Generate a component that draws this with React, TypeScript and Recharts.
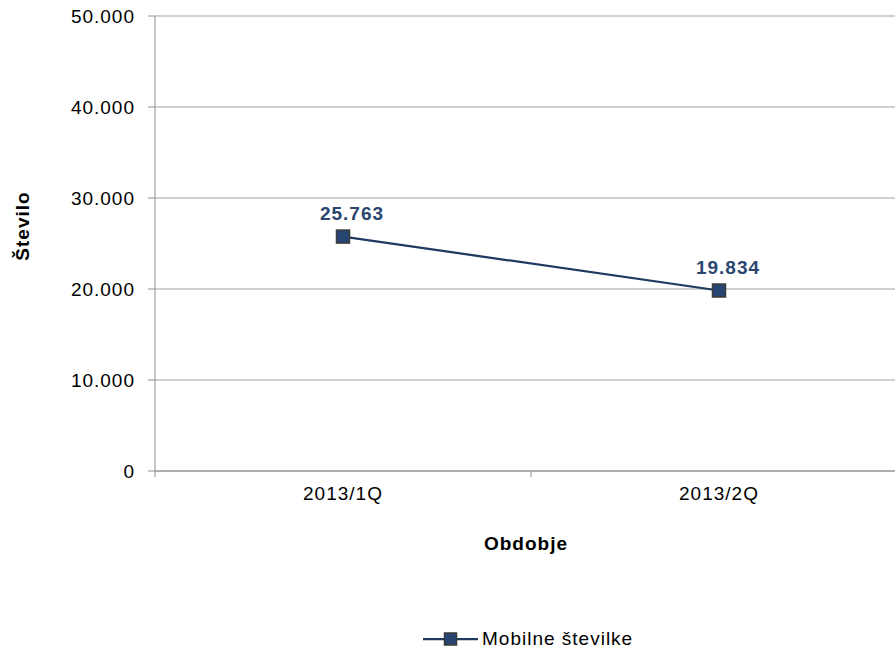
import { LineChart, Line, XAxis, YAxis, CartesianGrid, LabelList } from "recharts";

// podatki
const periods = ["2013/1Q", "2013/2Q"];
const mobileNumbers = [25763, 19834];
const yTicks = [0, 10000, 20000, 30000, 40000, 50000];
const seriesName = "Mobilne številke";

const data = periods.map((p, i) => ({ period: p, value: mobileNumbers[i] }));

const FONT = '"Liberation Sans", Arial, sans-serif';
const LINE = "#1F3A60";
const MARK = "#264573";
const LABEL = "#2A4670";
const AXIS = "#8E8E8E";

const fmt = (v: number) => String(v).replace(/\B(?=(\d{3})+(?!\d))/g, ".");

// kategorija + tick na meji kategorije (kot v Excelu)
const XTick = (props: any) => {
    const { x, y, payload } = props;
    const half = payload?.offset ?? 0;
    const axisY = y - 16;
    return (
        <g>
            {half > 0 && (
                <line x1={x - half} x2={x - half} y1={axisY} y2={axisY + 6} stroke={AXIS} strokeWidth={1} />
            )}
            <text x={x} y={y} dy="0.71em" textAnchor="middle" fontFamily={FONT} fontSize={19} letterSpacing={1} fill="#000">
                {payload.value}
            </text>
        </g>
    );
};

const SquareDot = (props: any) => {
    const { cx, cy, index } = props;
    if (cx == null || cy == null) return null;
    return <rect key={index} x={cx - 6.5} y={cy - 6.5} width={13} height={13} fill={MARK} stroke="#3A3A3A" strokeWidth={1.5} />;
};

const ValueLabel = (props: any) => {
    const { x, y, value } = props;
    return (
        <text x={x + 9} y={y - 17} textAnchor="middle" fontFamily={FONT} fontSize={19} fontWeight="bold" letterSpacing={1} fill={LABEL}>
            {fmt(value)}
        </text>
    );
};

export default function App() {
    return (
        <div style={{ position: "absolute", left: 0, top: 0, width: 895, height: 650, overflow: "hidden", background: "#fff", fontFamily: FONT }}>
            <LineChart width={915} height={650} data={data} margin={{ top: 16, right: 8, bottom: 149, left: 0 }}>
                <CartesianGrid vertical={false} stroke="#A3A3A3" strokeWidth={1} />
                <XAxis
                    dataKey="period"
                    scale="band"
                    height={30}
                    tickLine={false}
                    tickSize={0}
                    tickMargin={16}
                    stroke={AXIS}
                    tick={<XTick />}
                    interval={0}
                    label={{
                        content: () => (
                            <text x={526} y={543} textAnchor="middle" dominantBaseline="central" fontFamily={FONT} fontSize={19} fontWeight="bold" letterSpacing={1} fill="#000">
                                Obdobje
                            </text>
                        ),
                    }}
                />
                <YAxis
                    width={155}
                    domain={[0, 50000]}
                    ticks={yTicks}
                    interval={0}
                    tickSize={7}
                    tickMargin={13}
                    stroke={AXIS}
                    tickFormatter={fmt}
                    tick={{ fill: "#000", fontSize: 19, fontFamily: FONT, letterSpacing: 1 }}
                    label={{
                        content: () => (
                            <text x={22} y={226} transform="rotate(-90 22 226)" textAnchor="middle" dominantBaseline="central" fontFamily={FONT} fontSize={19} fontWeight="bold" letterSpacing={1} fill="#000">
                                Število
                            </text>
                        ),
                    }}
                />
                <Line
                    type="linear"
                    dataKey="value"
                    name={seriesName}
                    stroke={LINE}
                    strokeWidth={2.25}
                    dot={<SquareDot />}
                    activeDot={false}
                    isAnimationActive={false}
                >
                    <LabelList dataKey="value" content={<ValueLabel />} />
                </Line>
            </LineChart>
            <div style={{ position: "absolute", left: 423, top: 627, height: 24, display: "flex", alignItems: "center" }}>
                <svg width={56} height={24}>
                    <line x1={0} x2={55} y1={12} y2={12} stroke={LINE} strokeWidth={2.25} />
                    <rect x={21.5} y={6} width={12} height={12} fill={MARK} stroke="#3A3A3A" strokeWidth={1.5} />
                </svg>
                <span style={{ marginLeft: 3, fontSize: 19, letterSpacing: 1, color: "#000", lineHeight: "24px" }}>{seriesName}</span>
            </div>
        </div>
    );
}
